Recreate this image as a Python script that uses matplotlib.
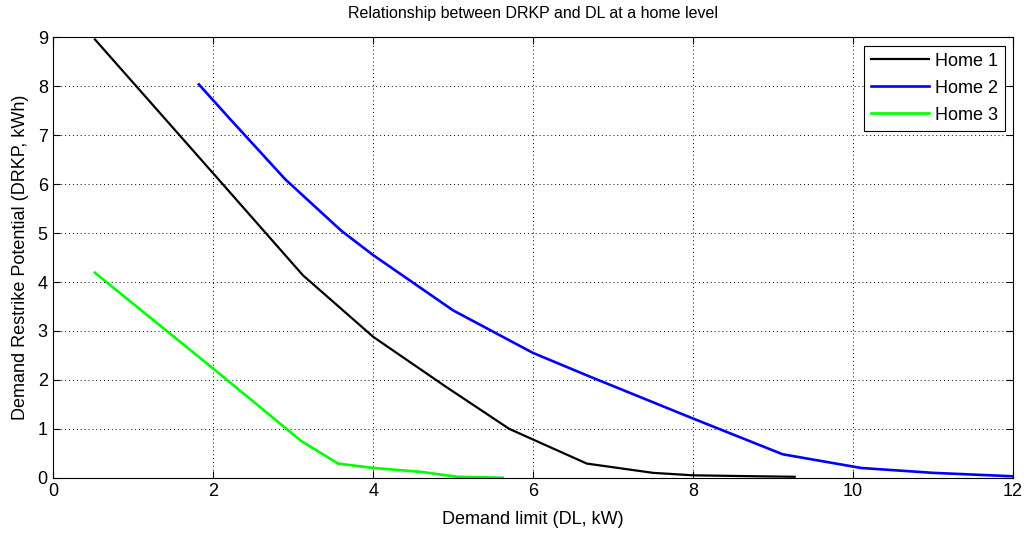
import matplotlib
matplotlib.use("Agg")
import matplotlib.pyplot as plt

plt.rcParams['font.family'] = ['Liberation Sans', 'DejaVu Sans']

home1_x = [0.52, 2.0, 3.12, 4.0, 4.9, 5.7, 6.67, 7.5, 8.0, 8.8, 9.27]
home1_y = [8.96, 6.22, 4.14, 2.88, 1.87, 1.0, 0.29, 0.10, 0.05, 0.03, 0.02]

home2_x = [1.82, 2.2, 2.9, 3.6, 4.0, 5.0, 6.0, 6.72, 8.0, 9.12, 10.1, 11.0, 12.0]
home2_y = [8.04, 7.35, 6.1, 5.05, 4.55, 3.42, 2.55, 2.06, 1.21, 0.48, 0.20, 0.10, 0.03]

home3_x = [0.52, 2.0, 3.1, 3.56, 4.0, 4.6, 5.05, 5.62]
home3_y = [4.19, 2.23, 0.75, 0.29, 0.20, 0.12, 0.02, 0.0]

labels = ['Home 1', 'Home 2', 'Home 3']
xticks = [0, 2, 4, 6, 8, 10, 12]
yticks = [0, 1, 2, 3, 4, 5, 6, 7, 8, 9]

fig = plt.figure(figsize=(10.28, 5.35), dpi=100)
ax = fig.add_axes([0.0519, 0.107, 0.9335, 0.823])

ax.plot(home1_x, home1_y, color='black', lw=1.6, label=labels[0])
ax.plot(home2_x, home2_y, color='#0000ff', lw=1.9, label=labels[1])
ax.plot(home3_x, home3_y, color='#00ff00', lw=1.9, label=labels[2])

ax.set_xlim(0, 12)
ax.set_ylim(0, 9)
ax.set_xticks(xticks)
ax.set_yticks(yticks)
ax.tick_params(direction='in', top=True, right=True, labelsize=13, length=5, width=0.8, pad=4)
ax.grid(True, linestyle=(0, (1, 3)), color='black', linewidth=0.7)
for s in ax.spines.values():
    s.set_linewidth(0.8)

ax.set_xlabel('Demand limit (DL, kW)', fontsize=13, labelpad=8)
ax.set_ylabel('Demand Restrike Potential (DRKP, kWh)', fontsize=13, labelpad=6)
ax.set_title('Relationship between DRKP and DL at a home level', fontsize=11.5, pad=14)

leg = ax.legend(loc='upper right', fontsize=13, fancybox=False, framealpha=1,
                edgecolor='black', handlelength=3.2, borderpad=0.4, labelspacing=0.55,
                handletextpad=0.3, borderaxespad=0.45)
leg.get_frame().set_linewidth(0.8)

fig.savefig('out.png', dpi=100)
